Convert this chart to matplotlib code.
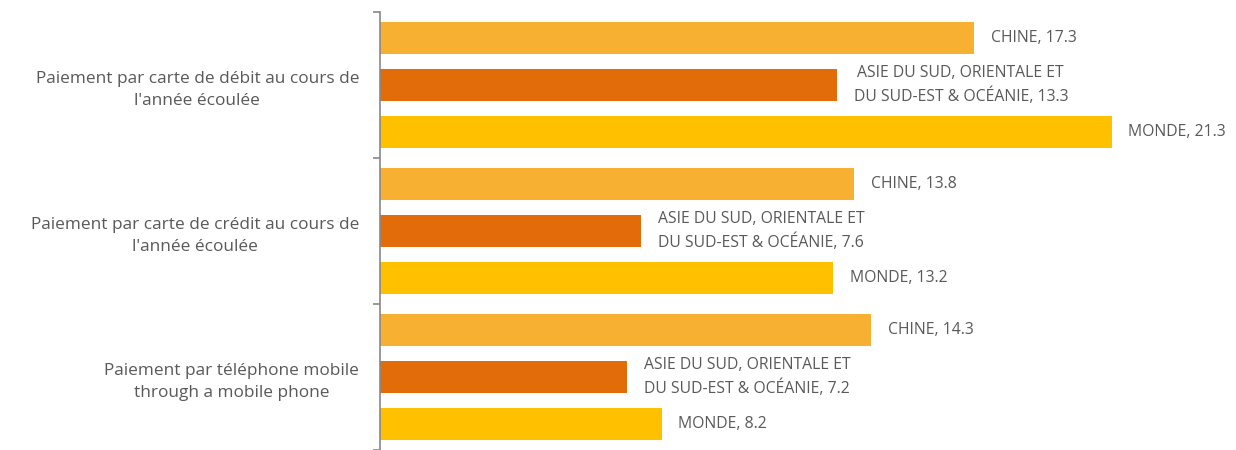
import matplotlib
matplotlib.use("Agg")
import matplotlib.pyplot as plt
import numpy as np

categories = ["Paiement par carte de débit au cours de\nl'année écoulée",
              "Paiement par carte de crédit au cours de\nl'année écoulée",
              "Paiement par téléphone mobile\nthrough a mobile phone"]
series_names = ["CHINE", "ASIE DU SUD, ORIENTALE ET\nDU SUD-EST & OCÉANIE", "MONDE"]
chine = [17.3, 13.8, 14.3]
asie = [13.3, 7.6, 7.2]
monde = [21.3, 13.2, 8.2]
colors = ["#F7B032", "#E36C0A", "#FFC000"]

plt.rcParams['font.family'] = ['Open Sans', 'DejaVu Sans']
fig = plt.figure(figsize=(12.36, 4.5), dpi=100)
ax = fig.add_axes([380/1236, 0, 1 - 380/1236, (450 - 12)/450])

group = 3.11
centers = np.arange(len(categories)) * group
offsets = [-1, 0, 1]
values = [chine, asie, monde]
for s, (name, vals, col) in enumerate(zip(series_names, values, colors)):
    ys = centers + offsets[s]
    ax.barh(ys, vals, height=0.7, color=col, edgecolor='none')
    for y, v in zip(ys, vals):
        ax.annotate(f"{name}, {v}", (v, y), xytext=(12, 0), textcoords='offset points',
                    ha='left', va='center', multialignment='center',
                    fontsize=11.3, color='#595959', linespacing=1.5)

ax.set_ylim(centers[-1] + group/2, centers[0] - group/2)
ax.set_xlim(0, 856/34.35)
ax.set_yticks(centers)
ax.set_yticklabels(categories, multialignment='center', fontsize=12.4, color='#595959',
                   linespacing=1.5)
ax.set_yticks(np.arange(len(categories) + 1) * group - group/2, minor=True)
ax.tick_params(axis='y', which='major', length=0, pad=15)
ax.tick_params(axis='y', which='minor', length=5, color='#888888', width=1.2)
ax.set_xticks([])
for sp in ['top', 'right', 'bottom']:
    ax.spines[sp].set_visible(False)
ax.spines['left'].set_color('#888888')
ax.spines['left'].set_linewidth(1.2)

fig.savefig("out.png", dpi=100)
